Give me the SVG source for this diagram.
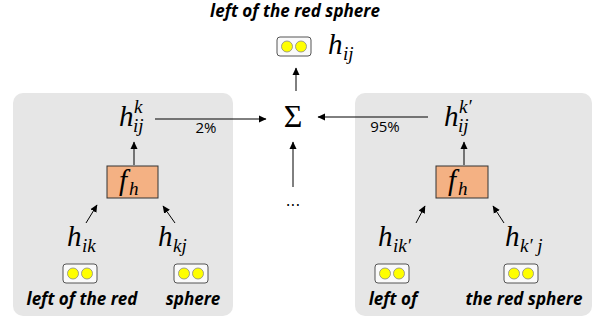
<svg xmlns="http://www.w3.org/2000/svg" width="595" height="322" viewBox="0 0 595 322">
<defs>
<marker id="ah" markerWidth="8" markerHeight="8" refX="7" refY="4" orient="auto" markerUnits="userSpaceOnUse">
<path d="M0,0.5 L7.5,4 L0,7.5 Z" fill="#000"/>
</marker>
<g id="tok">
<rect x="0" y="0" width="34" height="19" rx="3" fill="#fafafa" stroke="#555" stroke-width="1"/>
<circle cx="10" cy="9.5" r="5.5" fill="#ffff00" stroke="#888" stroke-width="0.8"/>
<circle cx="24" cy="9.5" r="5.5" fill="#ffff00" stroke="#888" stroke-width="0.8"/>
</g>
</defs>
<style>
.lbl{font-family:"Open Sans","DejaVu Sans",sans-serif;font-weight:bold;font-style:italic;font-size:17px;fill:#000;text-anchor:middle}
.m{font-family:"Liberation Serif",serif;font-style:italic;font-size:29px;fill:#000}
.s{font-family:"Liberation Serif",serif;font-style:italic;font-size:19px;fill:#000}
.pct{font-family:"Open Sans","DejaVu Sans",sans-serif;font-size:15px;fill:#000;text-anchor:middle}
.panel{fill:#e6e6e6}
.fh{fill:#f4b183;stroke:#333;stroke-width:1}
.c{stroke:#000;stroke-width:1;fill:none;marker-end:url(#ah)}
</style>
<rect width="595" height="322" fill="#fff"/>
<rect class="panel" x="13" y="93" width="220" height="223" rx="10"/>
<rect class="panel" x="355" y="93" width="237" height="223" rx="10"/>

<g id="top">
<text class="lbl" x="295" y="17">left of the red sphere</text>
<use href="#tok" x="277" y="37"/>
<text class="m" x="328" y="54">h</text><text class="s" x="343" y="60">ij</text>
</g>

<g id="sum">
<text x="293" y="127" font-family="Liberation Serif, serif" font-size="32" text-anchor="middle">Σ</text>
</g>
<g id="dots">
<text x="293" y="206" font-family="DejaVu Sans, sans-serif" font-size="15" text-anchor="middle">...</text>
</g>

<g id="left-out">
<text class="m" x="119" y="126">h</text><text class="s" x="134" y="113">k</text><text class="s" x="133" y="132">ij</text>
</g>
<g id="left-fh">
<rect class="fh" x="107" y="166" width="51" height="32"/>
<text class="m" x="119" y="190">f</text><text class="s" x="129" y="195">h</text>
</g>
<g id="left-hik">
<text class="m" x="67" y="246">h</text><text class="s" x="82" y="252">ik</text>
<use href="#tok" x="63" y="264"/>
<text class="lbl" x="82" y="305">left of the red</text>
</g>
<g id="left-hkj">
<text class="m" x="158" y="246">h</text><text class="s" x="173" y="252">kj</text>
<use href="#tok" x="174" y="264"/>
<text class="lbl" x="193" y="305">sphere</text>
</g>

<g id="right-out">
<text class="m" x="444" y="126">h</text><text class="s" x="459" y="113">k′</text><text class="s" x="458" y="132">ij</text>
</g>
<g id="right-fh">
<rect class="fh" x="436" y="166" width="52" height="32"/>
<text class="m" x="448" y="190">f</text><text class="s" x="458" y="195">h</text>
</g>
<g id="right-hik">
<text class="m" x="378" y="246">h</text><text class="s" x="393" y="252">ik′</text>
<use href="#tok" x="375" y="264"/>
<text class="lbl" x="393" y="305">left of</text>
</g>
<g id="right-hkj">
<text class="m" x="505" y="246">h</text><text class="s" x="520" y="252">k′ j</text>
<use href="#tok" x="504" y="264"/>
<text class="lbl" x="524" y="305">the red sphere</text>
</g>

<g id="connectors">
<line class="c" x1="296" y1="91" x2="296" y2="68"/>
<line class="c" x1="155" y1="119" x2="266" y2="119"/>
<line class="c" x1="428" y1="117" x2="318" y2="117"/>
<line class="c" x1="293" y1="187" x2="293" y2="142"/>
<line class="c" x1="134" y1="165" x2="134" y2="142"/>
<line class="c" x1="464" y1="165" x2="464" y2="142"/>
<line class="c" x1="86" y1="223" x2="97" y2="205"/>
<line class="c" x1="175" y1="223" x2="163" y2="206"/>
<line class="c" x1="416" y1="223" x2="425" y2="206"/>
<line class="c" x1="504" y1="223" x2="493" y2="206"/>
<text class="pct" x="206" y="133">2%</text>
<text class="pct" x="385" y="132">95%</text>
</g>
</svg>
